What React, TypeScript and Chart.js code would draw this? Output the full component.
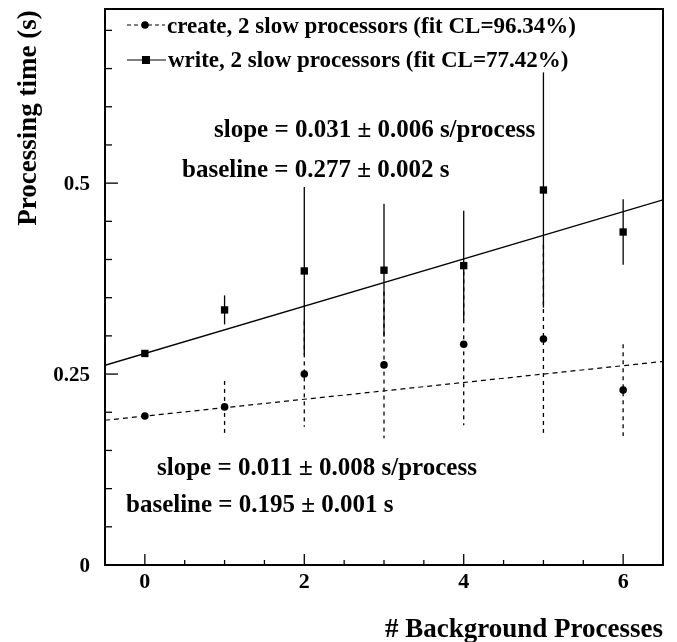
import React, { useEffect, useRef } from "react";
import { Chart, registerables } from "chart.js";

Chart.register(...registerables);

// ---- data ----
const backgroundProcesses = [0, 1, 2, 3, 4, 5, 6];
const createTimes = [0.195, 0.207, 0.25, 0.262, 0.289, 0.296, 0.229];
const createErrors = [0.001, 0.034, 0.069, 0.096, 0.106, 0.123, 0.06];
const writeTimes = [0.277, 0.334, 0.385, 0.386, 0.392, 0.491, 0.436];
const writeErrors = [0.002, 0.019, 0.11, 0.087, 0.072, 0.154, 0.043];

// fit lines (end points at the frame edges)
const fitX = [-0.5, 6.5];
const createFitY = [0.1895, 0.2665];
const writeFitY = [0.2615, 0.478];

// axes
const xRange = [-0.5, 6.5];
const yRange = [0, 0.728];
const xMajorTicks = [0, 2, 4, 6];
const xTickLabels = ["0", "2", "4", "6"];
const xMinorTicks = [0.5, 1, 1.5, 2.5, 3, 3.5, 4.5, 5, 5.5];
const yMajorTicks = [0, 0.25, 0.5];
const yTickLabels = ["0", "0.25", "0.5"];
const yMinorTicks = [0.05, 0.1, 0.15, 0.2, 0.3, 0.35, 0.4, 0.45, 0.55, 0.6, 0.65, 0.7];

const legendLabels = [
  "create, 2 slow processors (fit CL=96.34%)",
  "write, 2 slow processors (fit CL=77.42%)",
];
const writeFitText = ["slope = 0.031 \u00b1 0.006 s/process", "baseline = 0.277 \u00b1 0.002 s"];
const createFitText = ["slope = 0.011 \u00b1 0.008 s/process", "baseline = 0.195 \u00b1 0.001 s"];
const xTitle = "# Background Processes";
const yTitle = "Processing time (s)";

const FONT = "'Liberation Serif', 'Times New Roman', serif";

const decorPlugin = {
  id: "decor",
  beforeDatasetsDraw(chart: any) {
    const { ctx, scales } = chart;
    const xs = scales.x;
    const ys = scales.y;
    const area = chart.chartArea;
    ctx.save();
    ctx.beginPath();
    ctx.rect(area.left, area.top, area.right - area.left, area.bottom - area.top);
    ctx.clip();
    ctx.strokeStyle = "#000";
    ctx.lineWidth = 1.3;
    // create error bars (dashed)
    ctx.setLineDash([4, 4]);
    backgroundProcesses.forEach((x, i) => {
      const px = xs.getPixelForValue(x);
      ctx.beginPath();
      ctx.moveTo(px, ys.getPixelForValue(createTimes[i] + createErrors[i]));
      ctx.lineTo(px, ys.getPixelForValue(createTimes[i] - createErrors[i]));
      ctx.stroke();
    });
    // write error bars (solid)
    ctx.setLineDash([]);
    backgroundProcesses.forEach((x, i) => {
      const px = xs.getPixelForValue(x);
      ctx.beginPath();
      ctx.moveTo(px, ys.getPixelForValue(writeTimes[i] + writeErrors[i]));
      ctx.lineTo(px, ys.getPixelForValue(writeTimes[i] - writeErrors[i]));
      ctx.stroke();
    });
    ctx.restore();
  },
  afterDraw(chart: any) {
    const { ctx, scales } = chart;
    const xs = scales.x;
    const ys = scales.y;
    const area = chart.chartArea;
    ctx.save();
    ctx.strokeStyle = "#000";
    ctx.fillStyle = "#000";
    // ticks (inward)
    ctx.lineWidth = 1.3;
    const tick = (x1: number, y1: number, x2: number, y2: number) => {
      ctx.beginPath();
      ctx.moveTo(x1, y1);
      ctx.lineTo(x2, y2);
      ctx.stroke();
    };
    yMajorTicks.forEach((v) => {
      const py = ys.getPixelForValue(v);
      tick(area.left, py, area.left + 13, py);
    });
    yMinorTicks.forEach((v) => {
      const py = ys.getPixelForValue(v);
      tick(area.left, py, area.left + 7, py);
    });
    xMajorTicks.forEach((v) => {
      const px = xs.getPixelForValue(v);
      tick(px, area.bottom, px, area.bottom - 11);
    });
    xMinorTicks.forEach((v) => {
      const px = xs.getPixelForValue(v);
      tick(px, area.bottom, px, area.bottom - 5);
    });
    // frame
    ctx.lineWidth = 2;
    ctx.strokeRect(area.left, area.top, area.right - area.left, area.bottom - area.top);

    // tick labels
    ctx.font = `bold 21px ${FONT}`;
    ctx.textAlign = "right";
    ctx.textBaseline = "alphabetic";
    yMajorTicks.forEach((v, i) => {
      const py = ys.getPixelForValue(v);
      ctx.fillText(yTickLabels[i], area.left - 15, py + 7);
    });
    ctx.font = `bold 22px ${FONT}`;
    ctx.textAlign = "center";
    xMajorTicks.forEach((v, i) => {
      const px = xs.getPixelForValue(v);
      ctx.fillText(xTickLabels[i], px, area.bottom + 23);
    });

    // axis titles
    ctx.font = `bold 27px ${FONT}`;
    ctx.textAlign = "right";
    ctx.fillText(xTitle, area.right, 637);
    ctx.save();
    ctx.translate(36, 118);
    ctx.rotate(-Math.PI / 2);
    ctx.textAlign = "center";
    ctx.fillText(yTitle, 0, 0);
    ctx.restore();

    // fit result texts
    ctx.font = `bold 25px ${FONT}`;
    ctx.textAlign = "left";
    ctx.fillText(writeFitText[0], 214, 137);
    ctx.fillText(writeFitText[1], 182, 177);
    ctx.fillText(createFitText[0], 157, 475);
    ctx.fillText(createFitText[1], 126, 512);

    // legend
    ctx.lineWidth = 1.2;
    ctx.setLineDash([4, 3]);
    tick(127, 25, 165, 25);
    ctx.setLineDash([]);
    ctx.beginPath();
    ctx.arc(145, 25, 3.8, 0, Math.PI * 2);
    ctx.fill();
    tick(127, 60, 166, 60);
    ctx.fillRect(142, 56, 8, 8);
    ctx.font = `bold 23px ${FONT}`;
    ctx.fillText(legendLabels[0], 167, 33);
    ctx.fillText(legendLabels[1], 168, 67);
    ctx.restore();
  },
};

export default function App() {
  const canvasRef = useRef<HTMLCanvasElement | null>(null);

  useEffect(() => {
    if (!canvasRef.current) return;
    const chart = new Chart(canvasRef.current, {
      type: "scatter",
      data: {
        datasets: [
          {
            label: "create fit",
            data: fitX.map((x, i) => ({ x, y: createFitY[i] })),
            showLine: true,
            borderColor: "#000",
            borderWidth: 1.2,
            borderDash: [5, 4],
            pointRadius: 0,
          },
          {
            label: "write fit",
            data: fitX.map((x, i) => ({ x, y: writeFitY[i] })),
            showLine: true,
            borderColor: "#000",
            borderWidth: 1.3,
            pointRadius: 0,
          },
          {
            label: legendLabels[0],
            data: backgroundProcesses.map((x, i) => ({ x, y: createTimes[i] })),
            pointStyle: "circle",
            pointRadius: 3.8,
            backgroundColor: "#000",
            borderColor: "#000",
            borderWidth: 0,
          },
          {
            label: legendLabels[1],
            data: backgroundProcesses.map((x, i) => ({ x, y: writeTimes[i] })),
            pointStyle: "rect",
            pointRadius: 5.2,
            backgroundColor: "#000",
            borderColor: "#000",
            borderWidth: 0,
          },
        ],
      },
      options: {
        animation: false,
        responsive: false,
        layout: { padding: { left: 105, right: 14, top: 9, bottom: 77 } },
        plugins: { legend: { display: false }, tooltip: { enabled: false } },
        scales: {
          x: { type: "linear", min: xRange[0], max: xRange[1], display: false },
          y: { type: "linear", min: yRange[0], max: yRange[1], display: false },
        },
      },
      plugins: [decorPlugin],
    });
    return () => chart.destroy();
  }, []);

  return (
    <div style={{ position: "fixed", left: 0, top: 0, width: 677, height: 642, background: "#fff" }}>
      <canvas ref={canvasRef} width={677} height={642} style={{ width: 677, height: 642 }} />
    </div>
  );
}
